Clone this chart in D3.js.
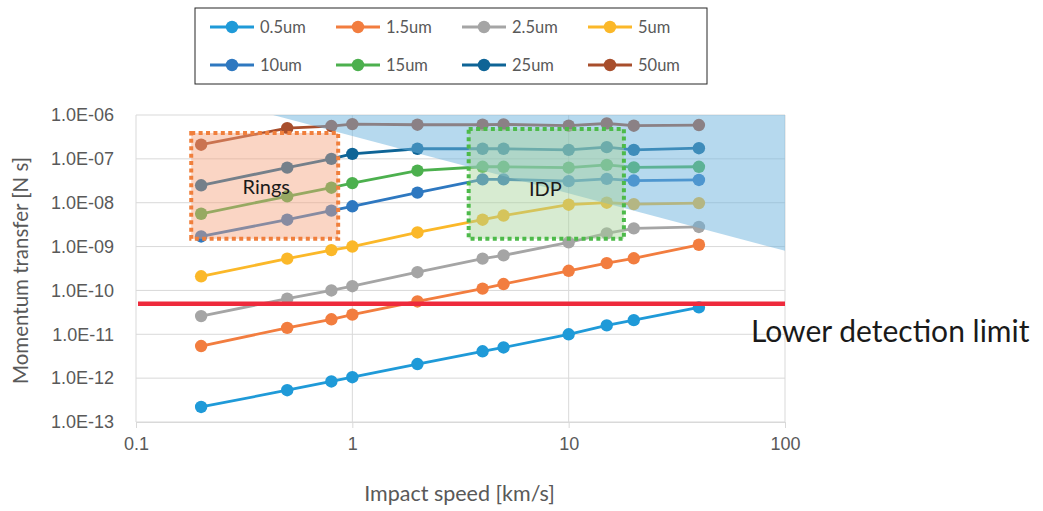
<!DOCTYPE html>
<html>
<head>
<meta charset="utf-8">
<script src="https://cdn.jsdelivr.net/npm/d3@7"></script>
<style>
  body { margin: 0; background: #fff; }
  svg { font-family: Lato, "Open Sans", sans-serif; }
  .axis text { fill: #595959; font-size: 18px; }
  .axis path, .axis line { stroke: #d9d9d9; }
</style>
</head>
<body>
<div id="chart"></div>
<script>
// impact speeds [km/s]
const speeds = [0.2, 0.5, 0.8, 1, 2, 4, 5, 10, 15, 20, 40];

// particle sizes
const sizes = ["0.5um", "1.5um", "2.5um", "5um", "10um", "15um", "25um", "50um"];
const colors = ["#1f9ad8", "#f27d3f", "#a5a5a5", "#fbb829", "#2e78c0", "#4cb04e", "#0e6496", "#a84e2c"];

// momentum transfer [N s], one array per size
const m05 = [2.2e-13, 5.3e-13, 8.4e-13, 1.05e-12, 2.1e-12, 4.1e-12, 5.0e-12, 1.0e-11, 1.6e-11, 2.1e-11, 4.1e-11];
const m15 = [5.4e-12, 1.4e-11, 2.2e-11, 2.8e-11, 5.6e-11, 1.1e-10, 1.4e-10, 2.8e-10, 4.2e-10, 5.4e-10, 1.1e-9];
const m25 = [2.6e-11, 6.5e-11, 1.0e-10, 1.25e-10, 2.6e-10, 5.3e-10, 6.3e-10, 1.25e-9, 2.0e-9, 2.6e-9, 2.8e-9];
const m5  = [2.1e-10, 5.3e-10, 8.3e-10, 1.0e-9, 2.1e-9, 4.1e-9, 5.1e-9, 9.0e-9, 1.0e-8, 9.3e-9, 9.8e-9];
const m10 = [1.7e-9, 4.1e-9, 6.6e-9, 8.3e-9, 1.7e-8, 3.4e-8, 3.4e-8, 3.1e-8, 3.5e-8, 3.2e-8, 3.3e-8];
const m15u = [5.6e-9, 1.4e-8, 2.2e-8, 2.8e-8, 5.4e-8, 6.6e-8, 6.6e-8, 6.3e-8, 7.3e-8, 6.4e-8, 6.6e-8];
const m25u = [2.5e-8, 6.3e-8, 1.0e-7, 1.3e-7, 1.7e-7, 1.7e-7, 1.7e-7, 1.6e-7, 1.85e-7, 1.6e-7, 1.75e-7];
const m50 = [2.1e-7, 5.0e-7, 5.6e-7, 6.2e-7, 6.0e-7, 6.0e-7, 6.1e-7, 5.7e-7, 6.4e-7, 5.7e-7, 5.9e-7];
const momentum = [m05, m15, m25, m5, m10, m15u, m25u, m50];

// annotations
const detectionLimit = 5e-11;
const blueZone = [[0.43, 1e-6], [100, 1e-6], [100, 8e-10]];
const ringsBox = { x0: 0.18, x1: 0.86, y0: 1.5e-9, y1: 3.9e-7 };
const idpBox = { x0: 3.45, x1: 18, y0: 1.5e-9, y1: 4.8e-7 };

const xTicks = [0.1, 1, 10, 100];
const yTicks = [1e-13, 1e-12, 1e-11, 1e-10, 1e-9, 1e-8, 1e-7, 1e-6];

const width = 1043, height = 511;
const margin = { top: 115, right: 258, bottom: 89, left: 136 };
const w = width - margin.left - margin.right;
const h = height - margin.top - margin.bottom;

const svg = d3.select("#chart").append("svg")
    .attr("width", width).attr("height", height);

const g = svg.append("g")
    .attr("transform", `translate(${margin.left},${margin.top})`);

const x = d3.scaleLog().domain([0.1, 100]).range([0, w]);
const y = d3.scaleLog().domain([1e-13, 1e-6]).range([h, 0]);

// grid
g.append("g").selectAll("line").data(yTicks).join("line")
    .attr("x1", 0).attr("x2", w)
    .attr("y1", d => y(d)).attr("y2", d => y(d))
    .attr("stroke", "#d9d9d9");
g.append("g").selectAll("line").data(xTicks).join("line")
    .attr("y1", 0).attr("y2", h)
    .attr("x1", d => x(d)).attr("x2", d => x(d))
    .attr("stroke", "#d9d9d9");

// axes
const xAxis = d3.axisBottom(x).tickValues(xTicks)
    .tickFormat(d3.format("")).tickSizeInner(6).tickSizeOuter(0).tickPadding(9);
g.append("g").attr("class", "axis")
    .attr("transform", `translate(0,${h})`).call(xAxis);

const yAxis = d3.axisLeft(y).tickValues(yTicks)
    .tickFormat(d => "1.0E-" + String(-Math.round(Math.log10(d))).padStart(2, "0"))
    .tickSize(0).tickPadding(22);
const ya = g.append("g").attr("class", "axis").call(yAxis);
ya.select(".domain").remove();

// series
const line = d3.line().x(d => x(d[0])).y(d => y(d[1]));
const series = sizes.map((s, i) => ({ name: s, color: colors[i], pts: speeds.map((v, j) => [v, momentum[i][j]]) }));

const sg = g.append("g").selectAll("g").data(series).join("g");
sg.append("path")
    .attr("d", d => line(d.pts))
    .attr("fill", "none").attr("stroke", d => d.color).attr("stroke-width", 2.8);
sg.selectAll("circle").data(d => d.pts.map(p => ({ p, color: d.color }))).join("circle")
    .attr("cx", d => x(d.p[0])).attr("cy", d => y(d.p[1]))
    .attr("r", 6.2).attr("fill", d => d.color);

// blue zone
g.append("path")
    .attr("d", d3.line().x(d => x(d[0])).y(d => y(d[1]))(blueZone) + "Z")
    .attr("fill", "#6db3dd").attr("opacity", 0.5);

// boxes
function box(b, fill, stroke) {
    g.append("rect")
        .attr("x", x(b.x0)).attr("y", y(b.y1))
        .attr("width", x(b.x1) - x(b.x0)).attr("height", y(b.y0) - y(b.y1))
        .attr("fill", fill).attr("fill-opacity", 0.45)
        .attr("stroke", stroke).attr("stroke-width", 4).attr("stroke-dasharray", "4,3.4");
}
box(ringsBox, "#f4a27c", "#f07f3c");
box(idpBox, "#a6d39a", "#4dba4a");

g.append("text").attr("x", x(0.4)).attr("y", y(1.55e-8))
    .attr("text-anchor", "middle").attr("font-size", 20).attr("fill", "#1a1a1a").text("Rings");
g.append("text").attr("x", x(7.8)).attr("y", y(1.45e-8))
    .attr("text-anchor", "middle").attr("font-size", 20).attr("fill", "#1a1a1a").text("IDP");

// detection limit
g.append("line")
    .attr("x1", 2).attr("x2", w)
    .attr("y1", y(detectionLimit)).attr("y2", y(detectionLimit))
    .attr("stroke", "#ee2a3c").attr("stroke-width", 4.5);
svg.append("text").attr("x", 751).attr("y", 342)
    .attr("font-size", 30).attr("fill", "#1a1a1a").text("Lower detection limit");

// axis titles
svg.append("text")
    .attr("transform", `translate(28,${margin.top + h / 2 + 2}) rotate(-90)`)
    .attr("text-anchor", "middle").attr("font-size", 20.5).attr("fill", "#595959")
    .text("Momentum transfer [N s]");
svg.append("text").attr("x", margin.left + w / 2 - 1).attr("y", 501)
    .attr("text-anchor", "middle").attr("font-size", 21.5).attr("fill", "#595959")
    .text("Impact speed [km/s]");

// legend
const lg = svg.append("g").attr("transform", "translate(195,8)");
lg.append("rect").attr("width", 512).attr("height", 76)
    .attr("fill", "#fff").attr("stroke", "#262626").attr("stroke-width", 1);
const items = lg.selectAll("g").data(series).join("g")
    .attr("transform", (d, i) => `translate(${15 + (i % 4) * 126},${i < 4 ? 19 : 57})`);
items.append("line").attr("x1", 0).attr("x2", 44)
    .attr("stroke", d => d.color).attr("stroke-width", 2.8);
items.append("circle").attr("cx", 22).attr("r", 6.2).attr("fill", d => d.color);
items.append("text").attr("x", 50).attr("dy", "0.35em")
    .attr("font-size", 16.5).attr("fill", "#595959").text(d => d.name);
</script>
</body>
</html>
